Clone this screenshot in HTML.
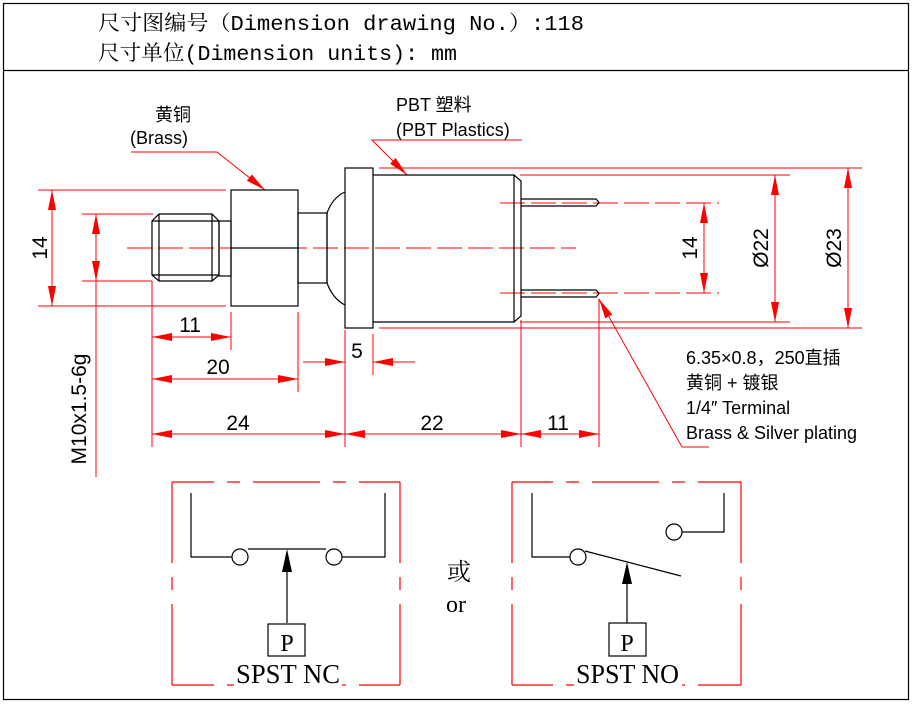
<!DOCTYPE html>
<html><head><meta charset="utf-8"><style>
html,body{margin:0;padding:0;background:#fff}
svg{display:block}
.s{font-family:"Liberation Sans","Noto Sans CJK SC",sans-serif}
.m{font-family:"Liberation Mono","Noto Serif CJK SC",monospace}
.r{font-family:"Liberation Serif","Noto Serif CJK SC",serif}
</style></head><body>
<svg width="912" height="704" viewBox="0 0 912 704" xmlns="http://www.w3.org/2000/svg">
<defs>
<marker id="a" viewBox="0 0 20 8" refX="20" refY="4" markerWidth="20" markerHeight="8" markerUnits="userSpaceOnUse" orient="auto-start-reverse"><path d="M0,0 L20,4 L0,8 z" fill="red"/></marker>
</defs>
<rect x="3.5" y="3.5" width="905" height="696" fill="none" stroke="#000" stroke-width="1.2"/>
<line x1="3" y1="70.5" x2="909" y2="70.5" stroke="#000" stroke-width="1.2"/>
<text x="98" y="30" font-size="21" class="m" textLength="486" lengthAdjust="spacingAndGlyphs">尺寸图编号（Dimension drawing No.）:118</text>
<text x="98" y="60" font-size="21" class="m" textLength="359" lengthAdjust="spacingAndGlyphs">尺寸单位(Dimension units): mm</text>

<text x="155" y="121" font-size="18" class="s">黄铜</text>
<text x="130" y="144" font-size="18" class="s">(Brass)</text>
<text x="396" y="111" font-size="18" class="s">PBT  塑料</text>
<text x="396" y="136" font-size="18" class="s">(PBT Plastics)</text>

<g stroke="red" stroke-width="1" fill="none">
<polyline points="131,152 217,152 265,190" marker-end="url(#a)"/>
<polyline points="522,140 372,140 407,175" marker-end="url(#a)"/>
<line x1="127" y1="248" x2="576" y2="248" stroke-dasharray="25,6"/>
<line x1="500" y1="203" x2="719" y2="203" stroke-dasharray="25,6"/>
<line x1="500" y1="293" x2="719" y2="293" stroke-dasharray="25,6"/>
<line x1="38" y1="190" x2="226" y2="190"/><line x1="38" y1="306" x2="226" y2="306"/>
<line x1="52" y1="190" x2="52" y2="306" marker-start="url(#a)" marker-end="url(#a)"/>
<line x1="82" y1="214" x2="153" y2="214"/><line x1="82" y1="281" x2="152" y2="281"/>
<line x1="96" y1="214" x2="96" y2="281" marker-start="url(#a)" marker-end="url(#a)"/>
<line x1="96" y1="281" x2="96" y2="477"/>
<line x1="152" y1="281" x2="152" y2="447"/>
<line x1="231" y1="312" x2="231" y2="350"/>
<line x1="298" y1="312" x2="298" y2="392"/>
<line x1="345" y1="330" x2="345" y2="447"/>
<line x1="373" y1="334" x2="373" y2="375"/>
<line x1="521" y1="320" x2="521" y2="447"/>
<line x1="599" y1="299" x2="599" y2="447"/>
<line x1="152" y1="337" x2="231" y2="337" marker-start="url(#a)" marker-end="url(#a)"/>
<line x1="152" y1="379" x2="298" y2="379" marker-start="url(#a)" marker-end="url(#a)"/>
<line x1="303" y1="362" x2="345" y2="362" marker-end="url(#a)"/>
<line x1="415" y1="362" x2="373" y2="362" marker-end="url(#a)"/>
<line x1="152" y1="434" x2="345" y2="434" marker-start="url(#a)" marker-end="url(#a)"/>
<line x1="345" y1="434" x2="521" y2="434" marker-start="url(#a)" marker-end="url(#a)"/>
<line x1="521" y1="434" x2="599" y2="434" marker-start="url(#a)" marker-end="url(#a)"/>
<line x1="704" y1="203" x2="704" y2="293" marker-start="url(#a)" marker-end="url(#a)"/>
<line x1="520" y1="175" x2="790" y2="175"/><line x1="520" y1="322" x2="790" y2="322"/>
<line x1="775" y1="175" x2="775" y2="322" marker-start="url(#a)" marker-end="url(#a)"/>
<line x1="379" y1="168" x2="862" y2="168"/><line x1="379" y1="328" x2="862" y2="328"/>
<line x1="848" y1="168" x2="848" y2="328" marker-start="url(#a)" marker-end="url(#a)"/>
<polyline points="709,447 682,447 599,299" marker-end="url(#a)"/>
</g>

<g stroke="#000" stroke-width="1.2" fill="none">
<path d="M159,214 L212,214 L219,221 L219,275 L212,281 L159,281 L152,275 L152,221 Z"/>
<line x1="159" y1="214" x2="159" y2="281"/><line x1="212" y1="214" x2="212" y2="281"/>
<line x1="152" y1="221" x2="219" y2="221"/><line x1="152" y1="275" x2="219" y2="275"/>
<rect x="219" y="221" width="12" height="55"/>
<rect x="231" y="190" width="67" height="116"/>
<line x1="231" y1="248" x2="298" y2="248"/>
<rect x="298" y="213" width="29" height="70"/>
<path d="M327,213 Q333,197 345,192 M327,283 Q333,299 345,305"/>
<line x1="327" y1="213" x2="327" y2="283"/>
<rect x="345" y="168" width="28" height="160"/>
<path d="M373,175 L514,175 L514,322 L373,322"/>
<path d="M514,175 L521,181 L521,316 L514,322"/>
<path d="M521,199 L596,199 L599,202.5 L596,206 L521,206"/>
<path d="M521,290 L596,290 L599,293.5 L596,297 L521,297"/>
</g>

<g class="s" font-size="21" fill="#000">
<text x="190" y="332" text-anchor="middle">11</text>
<text x="218" y="374" text-anchor="middle">20</text>
<text x="357" y="358" text-anchor="middle">5</text>
<text x="238" y="430" text-anchor="middle">24</text>
<text x="432" y="430" text-anchor="middle">22</text>
<text x="558" y="430" text-anchor="middle">11</text>
<text transform="translate(47,248) rotate(-90)" text-anchor="middle">14</text>
<text transform="translate(86,409) rotate(-90)" text-anchor="middle">M10x1.5-6g</text>
<text transform="translate(697,248) rotate(-90)" text-anchor="middle">14</text>
<text transform="translate(768,248) rotate(-90)" text-anchor="middle">Ø22</text>
<text transform="translate(841,248) rotate(-90)" text-anchor="middle">Ø23</text>
</g>
<g class="s" font-size="18" fill="#000">
<text x="686" y="364">6.35×0.8，250直插</text>
<text x="686" y="389">黄铜 + 镀银</text>
<text x="686" y="414">1/4″ Terminal</text>
<text x="686" y="439">Brass &amp; Silver plating</text>
</g>

<g stroke="red" stroke-width="1.2" fill="none">
<path d="M172,482 H214 M227,482 H240 M253,482 H320 M333,482 H346 M359,482 H400"/>
<path d="M172,685 H214 M227,685 H240 M253,685 H320 M333,685 H346 M359,685 H400"/>
<path d="M172,482 V563 M172,577 V590 M172,604 V685 M400,482 V563 M400,577 V590 M400,604 V685"/>
<path d="M512,482 H553 M566,482 H579 M592,482 H659 M672,482 H685 M698,482 H741"/>
<path d="M512,685 H553 M566,685 H579 M592,685 H659 M672,685 H685 M698,685 H741"/>
<path d="M512,482 V563 M512,577 V590 M512,604 V685 M741,482 V563 M741,577 V590 M741,604 V685"/>
</g>
<g stroke="#000" stroke-width="1.2" fill="none">
<polyline points="191,493 191,557 232,557"/>
<circle cx="240" cy="557" r="8" fill="#fff"/>
<line x1="248" y1="549" x2="326" y2="549"/>
<circle cx="334" cy="557" r="8" fill="#fff"/>
<polyline points="342,557 385,557 385,493"/>
<line x1="287" y1="623" x2="287" y2="565"/>
<rect x="268" y="624" width="37" height="32" fill="#fff"/>
<polyline points="532,493 532,557 570,557"/>
<circle cx="578" cy="557" r="8" fill="#fff"/>
<line x1="585" y1="551" x2="681" y2="576"/>
<circle cx="674" cy="532" r="8" fill="#fff"/>
<polyline points="682,532 724,532 724,493"/>
<line x1="627" y1="623" x2="627" y2="578"/>
<rect x="609" y="623" width="37" height="33" fill="#fff"/>
</g>
<path d="M287,549 L292,572 L282,572 Z" fill="#000"/>
<path d="M627,562 L632,584 L622,584 Z" fill="#000"/>
<g class="r" fill="#000">
<text x="287" y="651" font-size="24" text-anchor="middle">P</text>
<text x="627" y="651" font-size="24" text-anchor="middle">P</text>
<rect x="234" y="664" width="108" height="24" fill="#fff"/>
<rect x="574" y="664" width="108" height="24" fill="#fff"/>
<text x="236" y="683" font-size="27" textLength="104" lengthAdjust="spacingAndGlyphs">SPST NC</text>
<text x="576" y="683" font-size="27" textLength="103" lengthAdjust="spacingAndGlyphs">SPST NO</text>
<text x="447" y="580" font-size="24">或</text>
<text x="446" y="612" font-size="24">or</text>
</g>
</svg>
</body></html>
